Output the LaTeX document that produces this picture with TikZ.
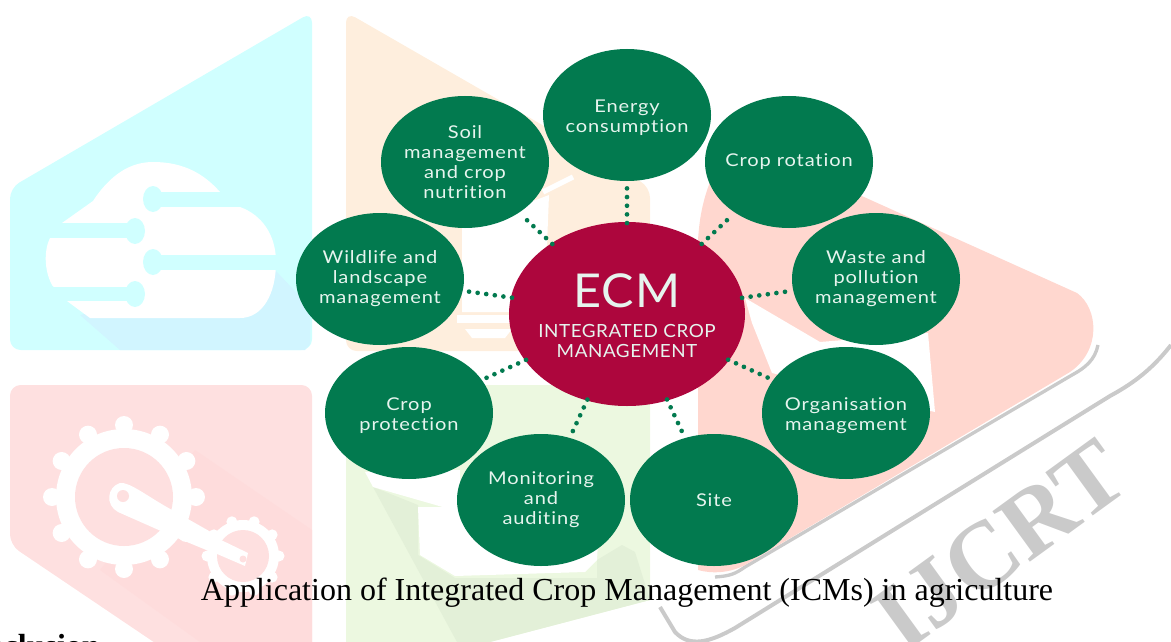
\documentclass[tikz,border=0pt]{standalone}
\usepackage{fontspec}
\setmainfont{Liberation Serif}
\newfontfamily\lab[LetterSpace=5,FakeStretch=1.14,Ligatures=NoCommon]{Lato}
\newfontfamily\labb[LetterSpace=3,FakeStretch=1.04,Ligatures=NoCommon]{Lato}
\definecolor{gn}{HTML}{027A4F}
\definecolor{crim}{HTML}{AD063D}
\definecolor{wcyan}{HTML}{D0FFFF}
\definecolor{wcyan2}{HTML}{D1F5FF}
\definecolor{wor}{HTML}{FEEEDD}
\definecolor{wgr}{HTML}{ECF8E0}
\definecolor{wgr2}{HTML}{E3F0D8}
\definecolor{wpk}{HTML}{FEE0E0}
\definecolor{wpk2}{HTML}{FEDCDC}
\definecolor{wrd}{HTML}{FFD7CF}
\definecolor{wgy}{HTML}{CACACA}
\definecolor{labc}{HTML}{E6F4EE}
\newlength{\pxu}\setlength{\pxu}{0.75pt}
\newcommand{\tsp}{\rule{0pt}{13pt}}
\usetikzlibrary{shapes.geometric}
\tikzset{
 outer/.style={ellipse,fill=gn,minimum width=168\pxu,minimum height=132\pxu,inner xsep=-30pt,inner ysep=-12pt,text=labc,align=center,font=\lab\fontsize{13.2}{15}\selectfont},
 hub/.style={ellipse,fill=crim,minimum width=236\pxu,minimum height=184\pxu,inner sep=0pt,text=labc,align=center},
 conn/.style={gn,line width=3.5pt,line cap=round,dash pattern=on 0pt off 6.5pt,shorten >=3pt,shorten <=-1pt},
 wm/.style={draw=none,rounded corners=8pt},
}
\begin{document}
\begin{tikzpicture}[x=0.75pt,y=-0.75pt]
\useasboundingbox (0,0) rectangle (1171,642);
\clip (0,0) rectangle (1171,642);
% --- watermark: cyan panel
\fill[wcyan,wm] (10,188) -- (312,12) -- (312,350) -- (10,350) -- cycle;
\fill[wcyan2] (275,270) -- (310,307) -- (310,344) -- (305,350) -- (120,350) -- (80,315) -- cycle;
\fill[white] (62,223) -- (93,201) .. controls (110,175) and (130,162) .. (153,162) .. controls (185,162) and (205,175) .. (220,192) -- (240,207) .. controls (262,215) and (276,235) .. (276,262) .. controls (276,295) and (262,318) .. (240,318) -- (90,318) -- (67,301) -- (52,285) .. controls (44,270) and (44,250) .. (50,238) -- cycle;
\fill[wcyan] (153,192) rectangle (245,207);
\fill[wcyan] (153,199) circle [x radius=10,y radius=13];
\fill[wcyan] (40,223) rectangle (135,238);
\fill[wcyan] (135,231) circle [x radius=10,y radius=13];
\fill[wcyan] (153,255) rectangle (285,270);
\fill[wcyan] (153,262) circle [x radius=10,y radius=13];
\fill[wcyan] (40,287) rectangle (135,301);
\fill[wcyan] (135,294) circle [x radius=10,y radius=13];
% --- watermark: pink panel
\fill[wpk,wm] (10,545) -- (10,385) -- (312,385) -- (312,680) -- (210,680) -- cycle;
\fill[wpk2] (195,450) -- (312,530) -- (312,642) -- (200,642) -- (100,570) -- cycle;
\begin{scope}[shift={(124,497)}]
 \foreach \a in {0,30,...,330}{\fill[white] (\a:72) circle (9);}
 \fill[white] (0,0) circle (68);
 \fill[wpk] (0,0) circle (49);
\end{scope}
\fill[white] (120,483) .. controls (130,482) and (145,495) .. (172,510) -- (248,553) -- (245,566) -- (170,535) -- (118,512) .. controls (105,505) and (107,487) .. (120,483) -- cycle;
\fill[wpk] (123,496) circle (6);
\begin{scope}[shift={(243,556)}]
 \foreach \a in {0,36,...,324}{\fill[white] (\a:36) circle (5.5);}
 \fill[white] (0,0) circle (36);
 \fill[wpk] (0,0) circle (26);
\end{scope}
\fill[white] (190,525) -- (248,553) -- (245,566) -- (180,538) -- cycle;
\fill[wpk] (243,559) circle (3.5);
% --- watermark: orange panel
\fill[wor,wm] (346,12) -- (650,187) -- (650,351) -- (346,351) -- cycle;
\fill[white] (549,195) -- (547,245) -- (510,312) -- (462,312) -- (462,228) -- cycle;
\draw[white,line width=4pt] (543,192) -- (573,177);
\fill[white] (457,315) rectangle (512,323);
\fill[white] (465,329) -- (512,329) -- (505,338) -- (472,338) -- cycle;
% --- watermark: green panel
\fill[wgr] (346,385) -- (650,385) -- (650,600) -- (490,642) -- (346,642) -- cycle;
\fill[wgr2] (373,487) -- (418,505) -- (418,555) -- (455,578) -- (597,578) -- (597,560) -- (622,545) -- (635,552) -- (650,600) -- (490,642) -- (457,642) -- cycle;
\fill[white] (365,472) -- (460,470) -- (460,512) -- (373,487) -- cycle;
\fill[white] (418,507) -- (600,507) -- (597,560) -- (585,572) -- (455,576) -- (420,555) -- cycle;
% --- watermark: play shape
\draw[wgy,line width=2.5pt,line join=round] (1098,345) .. controls (1095,360) and (1085,368) .. (1072,375) -- (745,567) .. controls (735,574) and (730,576) .. (715,577);
\fill[wrd] (698,570) -- (698,240) .. controls (700,210) and (705,185) .. (730,140) -- (864,197) -- (1077,293) .. controls (1098,308) and (1102,350) .. (1070,372) -- (745,565) .. controls (730,573) and (712,574) .. (698,570) -- cycle;
\fill[white] (745,298) -- (820,342) -- (928,333) -- (935,412) -- (772,373) -- (752,323) -- cycle;
\draw[wgy,line width=3pt] (1171,345) .. controls (1150,372) and (1130,385) .. (1110,396) -- (735,628) .. controls (710,642) and (690,648) .. (675,632) -- (660,607);
\node[font=\bfseries\fontsize{72}{72}\selectfont,text=wgy,rotate=36] (mark) at (1000,545) {IJCRT};
% --- main diagram
\node[hub] (ecm) at (627,314) {};
\node[font=\labb\fontsize{35}{35}\selectfont,text=labc] (ecmt) at (627,291) {ECM};
\node[font=\labb\fontsize{13.6}{15}\selectfont,align=center,text=labc] (ecms) at (627,341) {INTEGRATED CROP\\[-0.5pt]MANAGEMENT};
\node[outer] (energy) at (627,115) {\tsp Energy\\consumption};
\node[outer] (soil) at (465,162) {Soil\\management\\and crop\\nutrition};
\node[outer] (rot) at (789,162) {Crop rotation};
\node[outer] (waste) at (876,279) {Waste and\\pollution\\management};
\node[outer] (org) at (846,413) {\tsp Organisation\\management};
\node[outer] (site) at (714,500) {Site};
\node[outer] (mon) at (541,500) {Monitoring\\and\\auditing};
\node[outer] (prot) at (409,413) {\tsp Crop\\protection};
\node[outer] (wild) at (380,279) {Wildlife and\\landscape\\management};
\foreach \n in {energy,soil,rot,waste,org,site,mon,prot,wild}{
 \draw[conn] (ecm) -- (\n);
}
\node[font=\fontsize{24}{26}\selectfont,anchor=base] (cap) at (627,600) {Application of Integrated Crop Management (ICMs) in agriculture};
\node[font=\bfseries\fontsize{24}{26}\selectfont,anchor=base east,inner sep=0pt] (con) at (100,656) {Conclusion};
\end{tikzpicture}
\end{document}
